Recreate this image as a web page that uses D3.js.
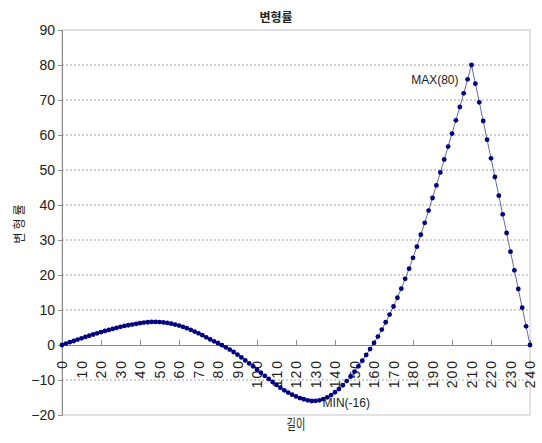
<!DOCTYPE html>
<html>
<head>
<meta charset="utf-8">
<script src="https://cdn.jsdelivr.net/npm/d3@7"></script>
<style>
  html, body { margin: 0; padding: 0; background: #fff; }
  svg { display: block; }
  text { font-family: "Liberation Sans", Arial, sans-serif; fill: #222; }
  .kr { font-family: "Noto Sans CJK KR", sans-serif; }
</style>
</head>
<body>
<svg id="chart" width="542" height="443"></svg>
<script>
// Position along the member (every 2 units)
const lengths = [
  0, 2, 4, 6, 8, 10, 12, 14, 16, 18, 20, 22, 24, 26, 28, 30, 32, 34, 36, 38, 40,
  42, 44, 46, 48, 50, 52, 54, 56, 58, 60, 62, 64, 66, 68, 70, 72, 74, 76, 78, 80,
  82, 84, 86, 88, 90, 92, 94, 96, 98, 100, 102, 104, 106, 108, 110, 112, 114, 116, 118, 120,
  122, 124, 126, 128, 130, 132, 134, 136, 138, 140, 142, 144, 146, 148, 150, 152, 154, 156, 158, 160,
  162, 164, 166, 168, 170, 172, 174, 176, 178, 180, 182, 184, 186, 188, 190, 192, 194, 196, 198, 200,
  202, 204, 206, 208, 210, 212, 214, 216, 218, 220, 222, 224, 226, 228, 230, 232, 234, 236, 238, 240
];

// Strain value at each position
const strain = [
  0, 0.4, 0.8, 1.15, 1.55, 1.9, 2.3, 2.65, 3.0, 3.35, 3.7, 4.0, 4.3, 4.6, 4.9, 5.2, 5.45, 5.65, 5.85, 6.05, 6.25,
  6.4, 6.5, 6.6, 6.6, 6.55, 6.45, 6.3, 6.1, 5.85, 5.55, 5.2, 4.8, 4.35, 3.85, 3.35, 2.8, 2.2, 1.6, 1.05, 0.5,
  -0.05, -0.65, -1.3, -2.0, -2.75, -3.55, -4.4, -5.25, -6.1, -7.0, -7.9, -8.8, -9.7, -10.55, -11.4, -12.2, -12.95, -13.6, -14.2, -14.7,
  -15.15, -15.5, -15.8, -16.0, -15.95, -15.8, -15.45, -14.95, -14.3, -13.5, -12.6, -11.5, -10.3, -9.0, -7.6, -6.1, -4.5, -2.85, -1.15, 0.6,
  2.4, 4.4, 6.5, 8.7, 11.0, 13.5, 16.1, 18.9, 21.8, 24.9, 28.1, 31.5, 34.9, 38.4, 42.0, 45.6, 49.3, 53.0, 56.7, 60.4,
  64.2, 68.0, 71.9, 75.9, 80, 74.67, 69.33, 64, 58.67, 53.33, 48, 42.67, 37.33, 32, 26.67, 21.33, 16, 10.67, 5.33, 0
];

const xTickLabels = [0, 10, 20, 30, 40, 50, 60, 70, 80, 90, 100, 110, 120, 130, 140, 150, 160,
                     170, 180, 190, 200, 210, 220, 230, 240];
const xTickMarks = [0, 20, 40, 60, 80, 100, 120, 140, 160, 180, 200, 220, 240];
const yTicks = [-20, -10, 0, 10, 20, 30, 40, 50, 60, 70, 80, 90];

const chartTitle = "변형률";
const xTitle = "길이";
const yTitle = "변형률";

// Extremes annotated on the curve
const maxIndex = strain.indexOf(d3.max(strain));
const minIndex = strain.indexOf(d3.min(strain));
const notes = [
  { text: "MAX(" + strain[maxIndex] + ")", i: maxIndex, kind: "max" },
  { text: "MIN(" + strain[minIndex] + ")", i: minIndex, kind: "min" }
];

const svg = d3.select("#chart");
const plot = { left: 62, right: 530, top: 30, bottom: 415 };

const x = d3.scaleLinear().domain([0, 240]).range([plot.left, plot.right]);
const y = d3.scaleLinear().domain([-20, 90]).range([plot.bottom, plot.top]);

// Dotted horizontal gridlines
svg.append("g")
  .selectAll("line")
  .data(yTicks.filter(v => v !== 0 && v !== -20 && v !== 90))
  .join("line")
  .attr("x1", plot.left).attr("x2", plot.right)
  .attr("y1", d => y(d)).attr("y2", d => y(d))
  .attr("stroke", "#a0a0a0")
  .attr("stroke-width", 1)
  .attr("stroke-dasharray", "2,2");

// Plot area frame
svg.append("rect")
  .attr("x", plot.left).attr("y", plot.top)
  .attr("width", plot.right - plot.left)
  .attr("height", plot.bottom - plot.top)
  .attr("fill", "none")
  .attr("stroke", "#c4c4c4")
  .attr("stroke-width", 1);

// Value axis
const yAxis = svg.append("g")
  .attr("transform", `translate(${plot.left},0)`)
  .call(d3.axisLeft(y).tickValues(yTicks).tickSize(4).tickPadding(3).tickFormat(d3.format("d")));
yAxis.select(".domain").attr("stroke", "#8c8c8c");
yAxis.selectAll(".tick line").attr("stroke", "#8c8c8c");
yAxis.selectAll("text").style("font-size", "14px").attr("fill", "#222");

// Category axis sitting on the zero line: tick marks every 20
const xMarks = svg.append("g")
  .attr("transform", `translate(0,${y(0)})`)
  .call(d3.axisTop(x).tickValues(xTickMarks).tickSize(5).tickFormat(""));
xMarks.select(".domain").attr("stroke", "#8c8c8c");
xMarks.selectAll(".tick line").attr("stroke", "#8c8c8c");

// Rotated labels every 10, hanging below the zero line
const xLabels = svg.append("g")
  .attr("transform", `translate(0,${y(0)})`)
  .call(d3.axisBottom(x).tickValues(xTickLabels).tickSize(0).tickFormat(d3.format("d")));
xLabels.select(".domain").remove();
xLabels.selectAll("text")
  .style("font-size", "14px")
  .style("letter-spacing", "2px")
  .attr("fill", "#222")
  .attr("text-anchor", "end")
  .attr("y", 0)
  .attr("dy", "0.35em")
  .attr("transform", "translate(0,14) rotate(-90)");

// Connecting line
const line = d3.line().x((d, i) => x(lengths[i])).y(d => y(d));
svg.append("path")
  .datum(strain)
  .attr("d", line)
  .attr("fill", "none")
  .attr("stroke", "#2a2a7a")
  .attr("stroke-opacity", 0.7)
  .attr("stroke-width", 1);

// Markers
svg.append("g")
  .selectAll("circle")
  .data(strain)
  .join("circle")
  .attr("cx", (d, i) => x(lengths[i]))
  .attr("cy", d => y(d))
  .attr("r", 2.4)
  .attr("fill", "#000080");

// Max / min annotations
svg.append("g")
  .selectAll("text")
  .data(notes)
  .join("text")
  .attr("x", d => x(lengths[d.i]) + (d.kind === "max" ? -13 : 11))
  .attr("y", d => y(strain[d.i]) + (d.kind === "max" ? 15 : 2))
  .attr("dy", "0.35em")
  .attr("text-anchor", d => d.kind === "max" ? "end" : "start")
  .style("font-size", "12px")
  .attr("fill", "#222")
  .text(d => d.text);

// Titles
svg.append("text")
  .attr("class", "kr")
  .attr("x", 276).attr("y", 18)
  .attr("dy", "0.35em")
  .attr("text-anchor", "middle")
  .style("font-size", "12px")
  .style("font-weight", "bold")
  .text(chartTitle);

svg.append("text")
  .attr("class", "kr")
  .attr("transform", `translate(${(plot.left + plot.right) / 2},424) scale(0.85,1.15)`)
  .attr("dy", "0.35em")
  .attr("text-anchor", "middle")
  .style("font-size", "12px")
  .text(xTitle);

svg.append("text")
  .attr("class", "kr")
  .attr("transform", `translate(20,${(plot.top + plot.bottom) / 2}) rotate(-90)`)
  .attr("dy", "0.35em")
  .attr("text-anchor", "middle")
  .style("font-size", "12px")
  .style("letter-spacing", "3px")
  .text(yTitle);
</script>
</body>
</html>
